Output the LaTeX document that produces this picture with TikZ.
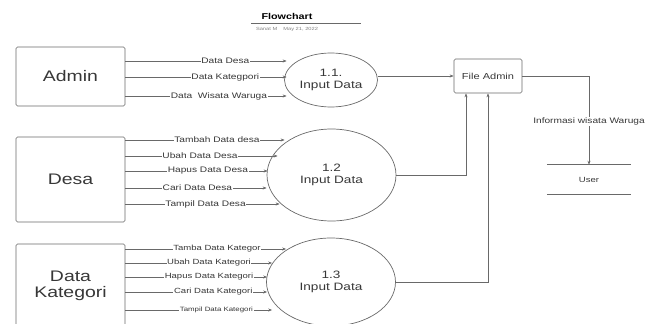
\documentclass[tikz,border=0pt]{standalone}
\usepackage{fontspec}
\setmainfont{Liberation Sans}[FakeStretch=1.27]
\usetikzlibrary{arrows.meta,calc,shapes.geometric}
\definecolor{linec}{RGB}{105,105,105}
\definecolor{txtc}{RGB}{55,55,55}
\begin{document}
\begin{tikzpicture}[x=1pt,y=-1pt,
  box/.style={draw=linec, rounded corners=1.5pt, line width=0.7pt, text=txtc, inner sep=0pt, align=center},
  proc/.style={draw=linec, ellipse, line width=0.7pt, inner sep=0pt, text=txtc, align=center, font=\fontsize{10.7}{12.7}\selectfont},
  flow/.style={draw=linec, line width=0.6pt, -{Stealth[length=4pt,width=3pt]}},
  lbl/.style={fill=white, inner sep=0.6pt, text=txtc, font=\fontsize{8}{9}\selectfont},
  slbl/.style={lbl, font=\fontsize{7.5}{9}\selectfont},
  tlbl/.style={lbl, font=\fontsize{6.2}{7}\selectfont},
  bigtxt/.style={font=\fontsize{15.3}{15.5}\selectfont}]
\useasboundingbox (0,0) rectangle (646,324);
\clip (0,0) rectangle (646,324);

% title
\node[font=\bfseries\fontsize{8.5}{10}\selectfont, text=black] (title) at (287,16) {Flowchart};
\draw[linec, line width=0.6pt] (251,23) -- (361,23);
\node[font=\fontsize{4.5}{5}\selectfont, text=gray] (sub) at (287,29) {Sanat M \quad May 21, 2022};

% external entities
\node[box, bigtxt, minimum width=109, minimum height=59] (admin) at (70.5,76.5) {Admin};
\node[box, bigtxt, minimum width=109, minimum height=85] (desa) at (70.5,179.5) {Desa};
\node[box, bigtxt, minimum width=109, minimum height=84] (kat) at (70.5,286) {Data\\Kategori};

% processes
\node[proc, minimum width=93, minimum height=54] (e1) at (331,80) {1.1.\\Input Data};
\node[proc, minimum width=129, minimum height=92] (e2) at (331.5,175) {1.2\\Input Data};
\node[proc, minimum width=129, minimum height=88] (e3) at (331,282) {1.3\\Input Data};

% data store / user
\node[box, minimum width=68, minimum height=34, font=\fontsize{8.7}{10}\selectfont] (fa) at (488,76) {File Admin};
\node[minimum width=84, minimum height=29, inner sep=0pt, text=txtc, font=\fontsize{7.5}{9}\selectfont] (user) at (589,179.5) {User};
\draw[linec, line width=0.7pt] (user.north west) -- (user.north east);
\draw[linec, line width=0.7pt] (user.south west) -- (user.south east);

% Admin flows
\draw[flow] (admin.east|-0,61) -- node[lbl,pos=0.62]{Data Desa} ($(e1.west|-0,61)+(2.5,0)$);
\draw[flow] (admin.east|-0,77) -- node[lbl,pos=0.62]{Data Kategpori} ($(e1.west|-0,77)+(2.5,0)$);
\draw[flow] (admin.east|-0,96) -- node[lbl,pos=0.58]{Data\ \ Wisata Waruga} ($(e1.west|-0,96)+(2.5,0)$);

% Desa flows
\draw[flow] (desa.east|-0,140) -- node[lbl,pos=0.575]{Tambah Data desa} ($(e2.west|-0,140)+(18,0)$);
\draw[flow] (desa.east|-0,156) -- node[lbl,pos=0.49]{Ubah Data Desa} ($(e2.west|-0,156)+(11,0)$);
\draw[flow] (desa.east|-0,171) -- node[lbl,pos=0.58]{Hapus Data Desa} ($(e2.west|-0,171)+(1,0)$);
\draw[flow] (desa.east|-0,188) -- node[lbl,pos=0.51]{Cari Data Desa} ($(e2.west|-0,188)+(0,0)$);
\draw[flow] (desa.east|-0,204) -- node[lbl,pos=0.52]{Tampil Data Desa} ($(e2.west|-0,204)+(13,0)$);

% Kategori flows
\draw[flow] (kat.east|-0,249) -- node[slbl,pos=0.57]{Tamba Data Kategor} ($(e3.west|-0,249)+(20,0)$);
\draw[flow] (kat.east|-0,263) -- node[slbl,pos=0.57]{Ubah Data Kategori} ($(e3.west|-0,263)+(6,0)$);
\draw[flow] (kat.east|-0,277) -- node[slbl,pos=0.59]{Hapus Data Kategori} ($(e3.west|-0,277)+(1,0)$);
\draw[flow] (kat.east|-0,292) -- node[slbl,pos=0.62]{Cari Data Kategori} ($(e3.west|-0,292)+(1,0)$);
\draw[flow] (kat.east|-0,310) -- node[tlbl,pos=0.62]{Tampil Data Kategori} ($(e3.west|-0,310)+(6,0)$);

% to File Admin
\draw[flow] (e1.east|-fa.west) -- (fa.west);
\draw[flow] (e2.east) -| ($(fa.south)+(-22,0)$);
\draw[flow] (e3.east) -| (fa.south);

% to User
\draw[flow] (fa.east) -| node[lbl,pos=0.756]{Informasi wisata Waruga} (user.north);
\end{tikzpicture}
\end{document}
